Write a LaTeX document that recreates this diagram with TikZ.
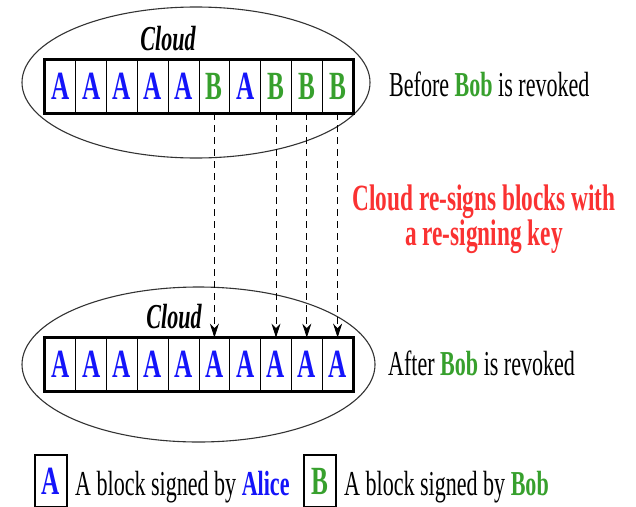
\documentclass[tikz,border=0pt]{standalone}
\usepackage{fontspec}
\setmainfont[FakeStretch=0.63]{Liberation Serif}
\usetikzlibrary{shapes.geometric,fit,arrows.meta}
\definecolor{bgreen}{RGB}{55,160,45}
\definecolor{rred}{RGB}{250,50,50}
\definecolor{ablue}{RGB}{20,20,250}
\tikzset{
  blk/.style={draw, line width=0.8pt, minimum width=30.8pt, minimum height=53pt, inner sep=0pt,
    font=\bfseries\fontsize{40}{40}\selectfont},
  lA/.style={text=ablue},
  lB/.style={text=bgreen},
  rowframe/.style={draw, line width=2.6pt, inner sep=0pt},
  cloudshape/.style={draw, ellipse, line width=1.1pt, draw=black!80, inner sep=0pt},
  txt/.style={font=\fontsize{35}{40}\selectfont, anchor=base west, inner sep=0pt},
  cloudlbl/.style={font=\bfseries\itshape\fontsize{35}{40}\selectfont, anchor=base, inner sep=0pt},
  resignarrow/.style={dash pattern=on 7pt off 5pt, line width=0.8pt, -{Stealth[length=14pt,width=9pt]}},
  legbox/.style={draw, line width=2.4pt, minimum width=32pt, minimum height=52pt, inner sep=0pt,
    font=\bfseries\fontsize{40}{40}\selectfont},
}
\begin{document}
\begin{tikzpicture}[x=1pt,y=-1pt]
\useasboundingbox (0,0) rectangle (636,506);
% clouds
\node[cloudshape, minimum width=348pt, minimum height=151pt] (cloudT) at (196,82.5) {};
\node[cloudshape, minimum width=353pt, minimum height=155pt] (cloudB) at (198.5,364.5) {};
\node[cloudlbl] (clT) at (168,50) {Cloud};
\node[cloudlbl] (clB) at (174,328) {Cloud};
% blocks
\foreach \l [count=\i from 0] in {A,A,A,A,A,B,A,B,B,B}{
  \node[blk, l\l] (t\i) at ({45+30.8*(\i+0.5)},86.5) {\l};
}
\foreach \i in {0,...,9}{
  \node[blk, lA] (b\i) at ({45+30.8*(\i+0.5)},364.5) {A};
}
\node[rowframe, fit=(t0)(t9)] (rowT) {};
\node[rowframe, fit=(b0)(b9)] (rowB) {};
% arrows
\foreach \i in {5,7,8,9}{
  \draw[resignarrow] (t\i.south) -- (b\i.north);
}
% texts
\node[txt] (before) at (389,96) {Before \textcolor{bgreen}{\bfseries Bob} is revoked};
\node[txt] (after) at (388,375) {After \textcolor{bgreen}{\bfseries Bob} is revoked};
\node[font=\bfseries\fontsize{37}{30}\selectfont, text=rred, align=center, anchor=base, inner sep=0pt]
  (resign) at (484,245) {Cloud re-signs blocks with\\a re-signing key};
% legend
\node[legbox, lA] (legA) at (51,481) {A};
\node[txt] (legAt) at (75,495) {A block signed by \textcolor{ablue}{\bfseries Alice}};
\node[legbox, lB] (legB) at (320,481) {B};
\node[txt] (legBt) at (344,495) {A block signed by \textcolor{bgreen}{\bfseries Bob}};
\end{tikzpicture}
\end{document}
